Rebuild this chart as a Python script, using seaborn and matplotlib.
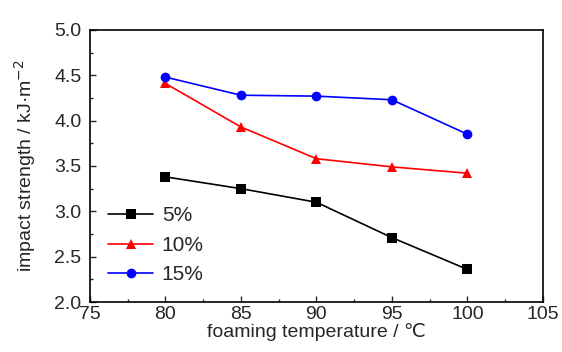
import pandas as pd
import numpy as np
import matplotlib
matplotlib.use("Agg")
import matplotlib.pyplot as plt
import seaborn as sns
from matplotlib.ticker import MultipleLocator

# data
temperature = [80, 85, 90, 95, 100]
strength_5 = [3.38, 3.25, 3.10, 2.71, 2.36]
strength_10 = [4.41, 3.93, 3.58, 3.49, 3.42]
strength_15 = [4.48, 4.28, 4.27, 4.23, 3.85]
series_labels = ["5%", "10%", "15%"]

df = pd.DataFrame({
    "temperature": temperature * 3,
    "strength": strength_5 + strength_10 + strength_15,
    "content": [series_labels[0]] * 5 + [series_labels[1]] * 5 + [series_labels[2]] * 5,
})

sns.set_style("ticks")
plt.rcParams["font.family"] = ["Liberation Sans", "DejaVu Sans"]

fig = plt.figure(figsize=(5.62, 3.52), dpi=100)
ax = fig.add_axes([0.160, 0.142, 0.806, 0.773])

sns.lineplot(data=df, x="temperature", y="strength", hue="content", style="content",
             palette=["black", "red", "blue"], markers=["s", "^", "o"], dashes=False,
             markersize=7, markeredgewidth=0, linewidth=1.2, ax=ax)

ax.set_xlim(75, 105)
ax.set_ylim(2.0, 5.0)
ax.xaxis.set_major_locator(MultipleLocator(5))
ax.xaxis.set_minor_locator(MultipleLocator(2.5))
ax.yaxis.set_major_locator(MultipleLocator(0.5))
ax.yaxis.set_minor_locator(MultipleLocator(0.25))
ax.yaxis.set_major_formatter(matplotlib.ticker.FormatStrFormatter("%.1f"))
ax.tick_params(which="both", direction="in", top=False, right=False, labelsize=14)
ax.tick_params(axis="y", pad=6)
ax.tick_params(axis="x", pad=3)
ax.tick_params(which="major", length=4, width=1)
ax.tick_params(which="minor", length=2, width=1)
for s in ax.spines.values():
    s.set_linewidth(1.2)
    s.set_color("black")

ax.set_xlabel("foaming temperature / \u2103", fontsize=14, labelpad=0)
ax.set_ylabel("impact strength / kJ\u00b7m$^{-2}$", fontsize=14, labelpad=12)

leg = ax.legend(loc="lower left", frameon=False, fontsize=15, handlelength=2.2,
                labelspacing=0.5, borderaxespad=0.45, handletextpad=0.4,
                bbox_to_anchor=(0.0, 0.0))

fig.savefig("out.png", dpi=100)
